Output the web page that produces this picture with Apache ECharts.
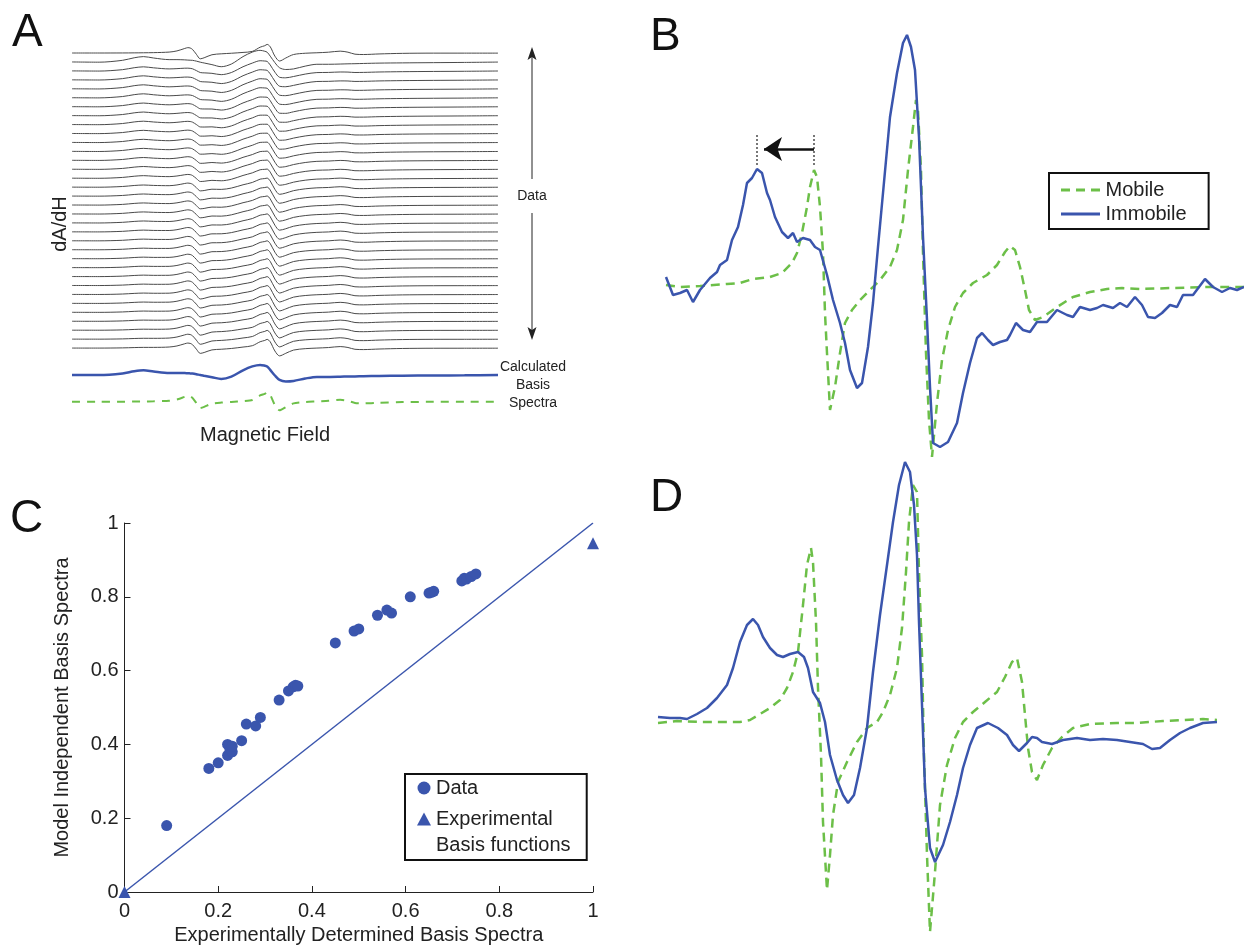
<!DOCTYPE html>
<html>
<head>
<meta charset="utf-8">
<script src="https://cdn.jsdelivr.net/npm/echarts@6/dist/echarts.min.js"></script>
<style>
  html, body { margin: 0; padding: 0; background: #fff; }
  #chart { width: 1244px; height: 946px; }
</style>
</head>
<body>
<div id="chart"></div>
<script>
// field: offset in gauss, amplitude: normalised to the immobile central peak

// panel B, experimental basis spectra
var bMobileField = [0.2, 3.0, 7.0, 12.4, 15.0, 17.6, 21.0, 23.4, 25.4, 26.4, 27.4, 28.4, 29.0, 29.8, 30.4, 31.0, 31.6, 32.0, 32.4, 33.0, 34.0, 35.0, 36.0, 37.4, 39.0, 41.0, 43.0, 45.0, 46.4, 47.6, 48.6, 49.6, 50.2, 50.6, 51.2, 51.6, 52.2, 52.8, 53.4, 54.4, 55.4, 56.6, 58.0, 59.6, 61.6, 64.4, 66.4, 68.0, 69.0, 70.0, 71.0, 72.0, 72.8, 74.0, 75.6, 78.4, 81.6, 85.0, 88.4, 91.4, 95.0, 101.6, 108.4, 115.8];
var bMobileAmp = [0, -0.008, -0.004, 0.004, 0.008, 0.024, 0.032, 0.048, 0.088, 0.128, 0.208, 0.312, 0.392, 0.46, 0.432, 0.312, 0.128, -0.112, -0.272, -0.5, -0.408, -0.272, -0.152, -0.1, -0.06, -0.02, 0.02, 0.072, 0.14, 0.26, 0.46, 0.632, 0.74, 0.7, 0.46, 0.128, -0.272, -0.54, -0.688, -0.472, -0.3, -0.18, -0.088, -0.032, 0.008, 0.04, 0.08, 0.132, 0.156, 0.14, 0.072, -0.02, -0.1, -0.14, -0.128, -0.088, -0.048, -0.028, -0.016, -0.012, -0.016, -0.012, -0.008, -0.008];

var bImmobileField = [0.2, 1.6, 3.0, 4.4, 5.6, 7.0, 9.0, 10.4, 11.0, 12.4, 13.4, 14.6, 15.6, 16.4, 17.4, 18.4, 19.4, 20.4, 21.0, 22.0, 23.4, 24.6, 25.6, 26.4, 27.6, 29.0, 30.0, 31.0, 32.4, 33.6, 35.0, 36.0, 37.0, 38.4, 39.4, 40.6, 41.6, 42.6, 43.6, 45.0, 46.4, 47.6, 48.4, 49.2, 50.0, 50.8, 51.6, 52.4, 53.0, 53.6, 55.0, 56.6, 58.4, 59.6, 61.0, 62.4, 63.4, 64.6, 65.6, 67.0, 68.4, 69.0, 70.2, 71.6, 73.0, 74.4, 76.4, 78.4, 80.4, 81.6, 83.0, 85.0, 86.4, 87.6, 89.6, 91.0, 92.4, 94.0, 95.4, 96.6, 98.0, 99.4, 101.0, 102.4, 103.6, 105.6, 108.0, 109.6, 111.4, 113.0, 114.4, 115.8];
var bImmobileAmp = [0.032, -0.04, -0.032, -0.02, -0.068, -0.02, 0.028, 0.052, 0.08, 0.1, 0.18, 0.232, 0.32, 0.408, 0.428, 0.464, 0.448, 0.368, 0.34, 0.272, 0.212, 0.188, 0.208, 0.172, 0.188, 0.18, 0.152, 0.14, 0.04, -0.06, -0.152, -0.232, -0.34, -0.412, -0.392, -0.248, -0.072, 0.152, 0.368, 0.672, 0.848, 0.968, 1.0, 0.952, 0.86, 0.592, 0.192, -0.14, -0.408, -0.632, -0.648, -0.628, -0.552, -0.432, -0.312, -0.212, -0.192, -0.22, -0.24, -0.228, -0.22, -0.2, -0.152, -0.18, -0.188, -0.148, -0.148, -0.1, -0.12, -0.128, -0.088, -0.1, -0.092, -0.08, -0.092, -0.072, -0.088, -0.048, -0.08, -0.128, -0.132, -0.112, -0.08, -0.088, -0.04, -0.04, 0.024, -0.008, -0.028, -0.012, -0.02, -0.008];

// peak positions marked by the arrow in B
var bPeakShift = [18.4, 29.8];

// panel D, model independent basis spectra
var dMobileField = [0.2, 4.0, 8.6, 12.0, 16.6, 18.6, 20.6, 22.6, 24.6, 26.0, 27.2, 28.2, 29.2, 30.0, 30.8, 31.2, 31.8, 32.2, 32.8, 33.2, 34.0, 34.6, 35.2, 36.2, 38.0, 40.0, 42.0, 44.0, 45.2, 46.6, 48.0, 49.0, 49.8, 50.4, 51.2, 52.0, 52.4, 53.0, 53.4, 54.0, 54.6, 55.6, 56.6, 58.0, 59.6, 61.2, 63.2, 65.6, 68.0, 69.6, 71.0, 72.0, 73.0, 73.6, 74.2, 75.0, 76.0, 77.2, 79.0, 81.0, 83.2, 86.6, 92.0, 96.0, 101.2, 105.2, 109.2, 112.0];
var dMobileAmp = [-0.012, -0.004, -0.008, -0.008, -0.008, 0, 0.024, 0.048, 0.08, 0.128, 0.192, 0.272, 0.46, 0.62, 0.688, 0.632, 0.392, 0.128, -0.14, -0.408, -0.68, -0.54, -0.38, -0.248, -0.168, -0.088, -0.032, -0.008, 0.032, 0.1, 0.208, 0.368, 0.592, 0.792, 0.94, 0.912, 0.592, 0.26, -0.14, -0.54, -0.848, -0.608, -0.34, -0.18, -0.072, -0.008, 0.032, 0.072, 0.112, 0.172, 0.232, 0.248, 0.152, 0.02, -0.112, -0.208, -0.24, -0.18, -0.112, -0.068, -0.032, -0.016, -0.012, -0.012, -0.004, 0, 0.004, 0];

var dImmobileField = [0.2, 2.6, 4.6, 6.0, 8.0, 10.0, 12.0, 14.0, 15.2, 16.6, 18.0, 19.2, 20.2, 21.2, 22.6, 24.0, 25.2, 26.6, 28.2, 29.4, 30.2, 31.2, 32.6, 33.6, 34.6, 36.0, 37.2, 38.2, 39.4, 40.6, 42.0, 43.2, 44.6, 46.0, 47.2, 48.4, 49.6, 50.6, 51.4, 52.0, 52.4, 53.0, 53.6, 54.6, 55.6, 57.2, 58.6, 60.0, 61.2, 62.6, 64.0, 66.2, 68.2, 70.0, 71.2, 72.4, 74.0, 75.0, 76.0, 77.0, 79.0, 81.2, 84.0, 86.6, 89.2, 92.0, 94.6, 97.2, 99.0, 100.6, 102.6, 104.6, 106.6, 109.2, 112.0];
var dImmobileAmp = [0.012, 0.008, 0.008, 0.004, 0.024, 0.048, 0.088, 0.14, 0.208, 0.312, 0.38, 0.404, 0.38, 0.332, 0.288, 0.26, 0.252, 0.264, 0.272, 0.252, 0.208, 0.112, 0.068, -0.008, -0.14, -0.24, -0.3, -0.332, -0.3, -0.192, -0.032, 0.192, 0.42, 0.62, 0.792, 0.94, 1.032, 0.992, 0.86, 0.66, 0.392, 0.06, -0.272, -0.512, -0.568, -0.5, -0.408, -0.3, -0.192, -0.1, -0.032, -0.012, -0.032, -0.06, -0.1, -0.124, -0.092, -0.068, -0.072, -0.088, -0.096, -0.08, -0.072, -0.08, -0.076, -0.08, -0.088, -0.096, -0.116, -0.112, -0.08, -0.052, -0.032, -0.012, -0.008];

// panel A, basis shapes on a common field grid
var aField = [0, 7, 13, 16, 18.4, 21, 25, 27, 29, 29.8, 30.4, 31, 32, 33, 34, 36, 38.4, 41, 44, 46.4, 48.4, 49.6, 50.2, 51, 52.2, 53.4, 55, 57, 60, 63, 66, 69, 71, 72.8, 75, 79, 85, 93, 101, 109.6];
var aMobile = [0, 0, 0.004, 0.012, 0.02, 0.032, 0.08, 0.18, 0.39, 0.46, 0.43, 0.31, -0.11, -0.5, -0.41, -0.15, -0.07, -0.02, 0.05, 0.14, 0.5, 0.63, 0.74, 0.54, -0.27, -0.69, -0.43, -0.13, -0.02, 0.02, 0.07, 0.16, 0.07, -0.10, -0.13, -0.08, -0.03, -0.01, -0.01, -0.01];
var aImmobile = [0, -0.02, 0.14, 0.36, 0.46, 0.34, 0.2, 0.2, 0.18, 0.16, 0.15, 0.14, 0.07, -0.02, -0.09, -0.23, -0.41, -0.18, 0.46, 0.85, 1.0, 0.92, 0.84, 0.5, -0.06, -0.5, -0.65, -0.6, -0.36, -0.2, -0.2, -0.18, -0.16, -0.15, -0.13, -0.1, -0.08, -0.06, -0.04, -0.01];
// immobile fraction of each stacked trace, top to bottom
var traceImmobileFrac = [0, 1, 0.75, 0.74, 0.73, 0.72, 0.66, 0.65, 0.61, 0.57, 0.56, 0.54, 0.50, 0.49, 0.45, 0.37, 0.36, 0.36, 0.35, 0.33, 0.29, 0.28, 0.26, 0.25, 0.23, 0.23, 0.22, 0.22, 0.21, 0.20, 0.18, 0.15, 0.12, 0.09];

// panel C
var cExperimental = [0.09, 0.18, 0.20, 0.22, 0.22, 0.225, 0.23, 0.23, 0.25, 0.26, 0.28, 0.29, 0.33, 0.35, 0.36, 0.365, 0.37, 0.45, 0.49, 0.50, 0.54, 0.56, 0.57, 0.61, 0.65, 0.655, 0.66, 0.72, 0.725, 0.73, 0.74, 0.75];
var cModel = [0.18, 0.335, 0.35, 0.40, 0.37, 0.385, 0.38, 0.395, 0.41, 0.455, 0.45, 0.473, 0.52, 0.545, 0.556, 0.56, 0.558, 0.675, 0.707, 0.713, 0.75, 0.764, 0.756, 0.80, 0.81, 0.812, 0.815, 0.843, 0.85, 0.848, 0.855, 0.862];
var cBasisX = [0, 1];
var cBasisY = [0, 0.945];
var cIdentity = [0, 1];
var cTicks = [0, 0.2, 0.4, 0.6, 0.8, 1];

var BLUE = '#3a55ad';
var GREEN = '#6cbf48';
var FONT = '"Liberation Sans", Arial, Helvetica, sans-serif';

function zip(xs, ys) {
    return xs.map(function (x, i) { return [x, ys[i]]; });
}

var chart = echarts.init(document.getElementById('chart'));

var series = [];

// A: stacked data traces
var traceGain = 1.3;
for (var k = 0; k < traceImmobileFrac.length; k++) {
    var f = traceImmobileFrac[k];
    series.push({
        type: 'line', xAxisIndex: 0, yAxisIndex: 0,
        symbol: 'none', smooth: 0.3, silent: true,
        lineStyle: {color: '#4a4a4a', width: 1},
        data: aField.map(function (x, i) {
            return [x, -k + traceGain * (f * aImmobile[i] + (1 - f) * aMobile[i])];
        })
    });
}
// A: calculated basis spectra
series.push({
    type: 'line', xAxisIndex: 0, yAxisIndex: 0, symbol: 'none', smooth: 0.3,
    lineStyle: {color: BLUE, width: 2.5},
    data: aField.map(function (x, i) { return [x, -36 + 1.12 * aImmobile[i]]; })
});
series.push({
    type: 'line', xAxisIndex: 0, yAxisIndex: 0, symbol: 'none', smooth: 0.2,
    lineStyle: {color: GREEN, width: 2, type: [8, 7]},
    data: aField.map(function (x, i) { return [x, -39 + 1.4 * aMobile[i]]; })
});

// B
series.push({
    name: 'Mobile', type: 'line', xAxisIndex: 1, yAxisIndex: 1, symbol: 'none',
    lineStyle: {color: GREEN, width: 2.5, type: [9, 6]},
    itemStyle: {color: GREEN},
    data: zip(bMobileField, bMobileAmp),
    markLine: {
        silent: true, symbol: ['none', 'none'], label: {show: false},
        data: [
            [{coord: [bPeakShift[0], 0.6], lineStyle: {color: '#777', width: 2, type: [2, 2]}}, {coord: [bPeakShift[0], 0.48]}],
            [{coord: [bPeakShift[1], 0.6], lineStyle: {color: '#777', width: 2, type: [2, 2]}}, {coord: [bPeakShift[1], 0.48]}],
            [{coord: [bPeakShift[1], 0.544], lineStyle: {color: '#111', width: 2.5, type: 'solid'}},
             {coord: [bPeakShift[0] + 1.4, 0.544], symbol: 'arrow', symbolSize: 18}]
        ]
    }
});
series.push({
    name: 'Immobile', type: 'line', xAxisIndex: 1, yAxisIndex: 1, symbol: 'none',
    lineStyle: {color: BLUE, width: 2.5},
    itemStyle: {color: BLUE},
    data: zip(bImmobileField, bImmobileAmp)
});

// C
series.push({
    type: 'line', xAxisIndex: 2, yAxisIndex: 2, symbol: 'none', silent: true,
    lineStyle: {color: BLUE, width: 1.5},
    data: zip(cIdentity, cIdentity)
});
series.push({
    name: 'Data', type: 'scatter', xAxisIndex: 2, yAxisIndex: 2,
    symbol: 'circle', symbolSize: 11, itemStyle: {color: BLUE, opacity: 1},
    data: zip(cExperimental, cModel)
});
series.push({
    name: 'Experimental', type: 'scatter', xAxisIndex: 2, yAxisIndex: 2,
    symbol: 'triangle', symbolSize: 12, itemStyle: {color: BLUE, opacity: 1},
    data: zip(cBasisX, cBasisY)
});

// D
series.push({
    type: 'line', xAxisIndex: 3, yAxisIndex: 3, symbol: 'none',
    lineStyle: {color: GREEN, width: 2.5, type: [9, 6]},
    data: zip(dMobileField, dMobileAmp)
});
series.push({
    type: 'line', xAxisIndex: 3, yAxisIndex: 3, symbol: 'none',
    lineStyle: {color: BLUE, width: 2.5},
    data: zip(dImmobileField, dImmobileAmp)
});

function letter(t, left, top) {
    return {text: t, left: left, top: top, padding: 0,
        textStyle: {fontSize: 46, fontWeight: 'normal', color: '#111', fontFamily: FONT}};
}

function label(t, x, y, size, rot, align) {
    return {type: 'text', x: x, y: y, rotation: rot || 0, silent: true, z: 10,
        style: {text: t, fill: '#222', font: size + 'px ' + FONT,
            align: align || 'center', verticalAlign: 'middle',
            textAlign: align || 'center', textVerticalAlign: 'middle'}};
}

var cAxisLine = {lineStyle: {color: '#222', width: 1}};
var cAxisTick = {inside: true, length: 6, lineStyle: {color: '#222'}};
var cAxisLabel = {fontSize: 20, color: '#222', fontFamily: FONT,
    customValues: cTicks, formatter: function (v) { return String(+v.toFixed(1)); }};

var option = {
    animation: false,
    backgroundColor: '#fff',
    title: [letter('A', 12, 10), letter('B', 650, 14), letter('C', 10, 496), letter('D', 650, 475)],
    grid: [
        {left: 72, top: 39.6, width: 426, height: 380, outerBoundsMode: 'none'},
        {left: 665, top: 20, width: 579, height: 445, outerBoundsMode: 'none'},
        {left: 124.5, top: 523, width: 468.5, height: 369, outerBoundsMode: 'none'},
        {left: 657, top: 455, width: 561, height: 490, outerBoundsMode: 'none'}
    ],
    xAxis: [
        {gridIndex: 0, type: 'value', min: 0, max: 109.6, show: false},
        {gridIndex: 1, type: 'value', min: 0, max: 115.8, show: false},
        {gridIndex: 2, type: 'value', min: 0, max: 1, interval: 0.2,
            axisLine: cAxisLine, axisTick: cAxisTick, axisLabel: Object.assign({margin: 9}, cAxisLabel),
            splitLine: {show: false},
            name: 'Experimentally Determined Basis Spectra', nameLocation: 'middle', nameGap: 33,
            nameTextStyle: {fontSize: 20, color: '#222', fontFamily: FONT}},
        {gridIndex: 3, type: 'value', min: 0, max: 112.2, show: false}
    ],
    yAxis: [
        {gridIndex: 0, type: 'value', min: -41, max: 1.5, show: false},
        {gridIndex: 1, type: 'value', min: -0.72, max: 1.06, show: false},
        {gridIndex: 2, type: 'value', min: 0, max: 1, interval: 0.2,
            axisLine: cAxisLine, axisTick: cAxisTick, axisLabel: Object.assign({margin: 6}, cAxisLabel),
            splitLine: {show: false},
            name: 'Model Independent Basis Spectra', nameLocation: 'middle', nameGap: 52,
            nameTextStyle: {fontSize: 20, color: '#222', fontFamily: FONT}},
        {gridIndex: 3, type: 'value', min: -0.9, max: 1.06, show: false}
    ],
    legend: [
        {
            data: [
                {name: 'Mobile', icon: 'path://M0,0H9V3H0Z M15,0H24V3H15Z M30,0H39V3H30Z'},
                {name: 'Immobile', icon: 'path://M0,0H39V3H0Z'}
            ],
            orient: 'vertical', left: 1049, top: 173,
            padding: [6, 22, 4, 12], itemGap: 2, itemWidth: 40, itemHeight: 3,
            borderColor: '#111', borderWidth: 2, backgroundColor: '#fff',
            selectedMode: false,
            textStyle: {fontSize: 20, color: '#222', fontFamily: FONT, lineHeight: 22}
        },
        {
            data: [{name: 'Data', icon: 'circle'}, {name: 'Experimental', icon: 'triangle'}],
            orient: 'vertical', left: 405, top: 774,
            padding: [1, 34, 28, 12], itemGap: 5, itemWidth: 14, itemHeight: 13,
            borderColor: '#111', borderWidth: 2, backgroundColor: '#fff',
            selectedMode: false,
            textStyle: {fontSize: 20, color: '#222', fontFamily: FONT, lineHeight: 26}
        }
    ],
    graphic: [
        label('dA/dH', 60, 224, 20, Math.PI / 2),
        label('Magnetic Field', 265, 435, 20),
        label('Data', 532, 196, 14),
        label('Calculated', 533, 367, 14),
        label('Basis', 533, 385, 14),
        label('Spectra', 533, 403, 14),
        label('Basis functions', 436, 845, 20, 0, 'left'),
        {type: 'line', silent: true, shape: {x1: 532, y1: 56, x2: 532, y2: 179}, style: {stroke: '#222', lineWidth: 1}},
        {type: 'line', silent: true, shape: {x1: 532, y1: 213, x2: 532, y2: 331}, style: {stroke: '#222', lineWidth: 1}},
        {type: 'polygon', silent: true, shape: {points: [[532, 47], [527.5, 60], [532, 57], [536.5, 60]]}, style: {fill: '#222'}},
        {type: 'polygon', silent: true, shape: {points: [[532, 340], [527.5, 327], [532, 330], [536.5, 327]]}, style: {fill: '#222'}}
    ],
    series: series
};

chart.setOption(option);
</script>
</body>
</html>
